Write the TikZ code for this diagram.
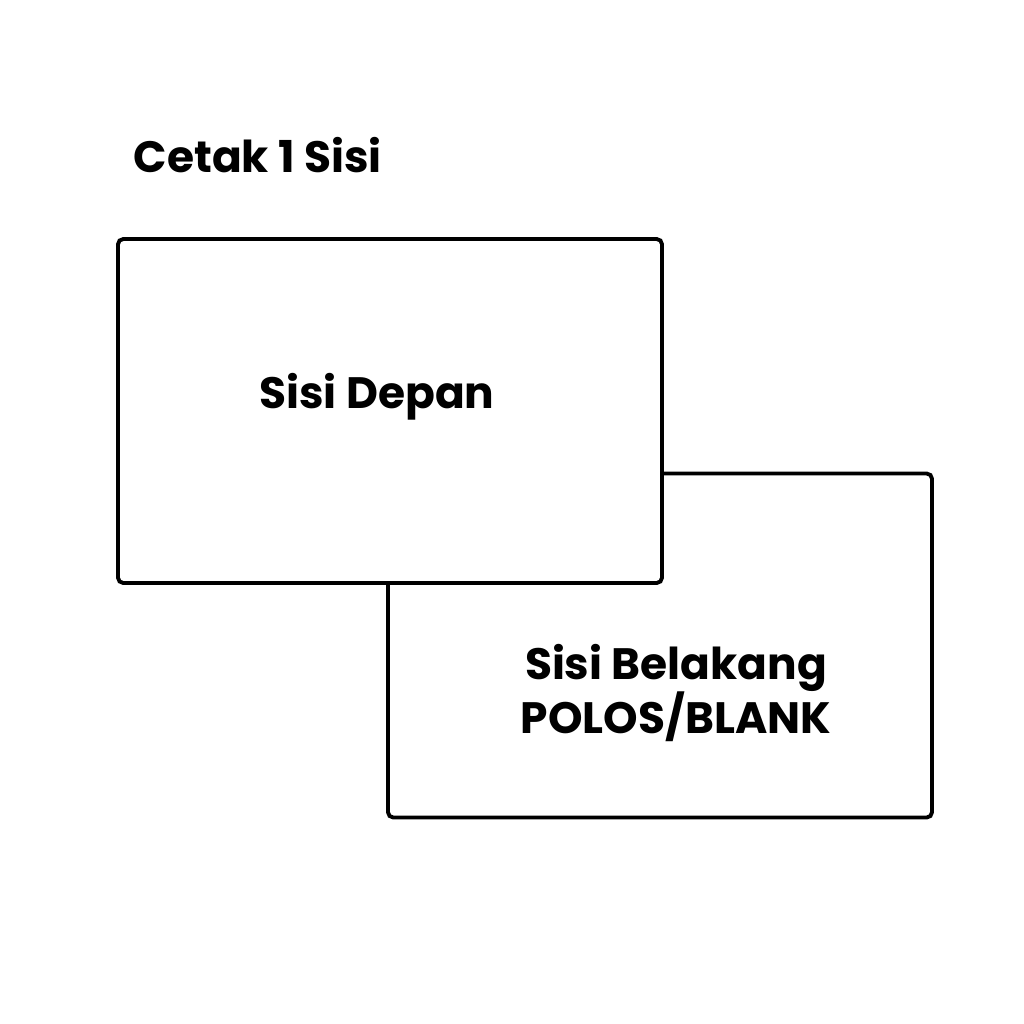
\documentclass[tikz,border=0pt]{standalone}
\usepackage{fontspec}
\setmainfont{Poppins}
\usetikzlibrary{positioning}
\tikzset{card/.style={draw=black,line width=1.1pt,rounded corners=1.5pt,fill=white,minimum width=5.44cm,minimum height=3.44cm,inner sep=0pt},
lbl/.style={font=\fontsize{12.5}{15.4}\selectfont\bfseries,align=center,inner sep=0pt}}
\begin{document}
\begin{tikzpicture}
\useasboundingbox[fill=white] (0,0) rectangle (10.24,-10.24);
\node[card] (back) at (6.60,-6.455) {};
\node[card] (front) at (3.90,-4.11) {};
\node[lbl,anchor=west] (title) at (1.33,-1.55) {Cetak 1 Sisi};
\node[lbl] (frontlbl) at (3.77,-3.97) {Sisi Depan};
\node[lbl] (backlbl) at (6.76,-6.93) {Sisi Belakang\\POLOS/BLANK};
\end{tikzpicture}
\end{document}
